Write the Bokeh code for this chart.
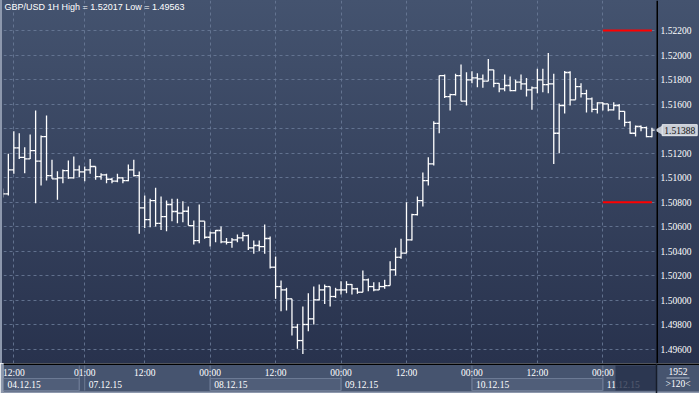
import math
from bokeh.plotting import figure
from bokeh.layouts import column, row
from bokeh.models import ColumnDataSource, FixedTicker, Range1d, Label
from bokeh.transform import dodge
from bokeh.embed import file_html
from bokeh.resources import INLINE

# ---------------- data (GBP/USD, 1 hour bars, 120 visible) ----------------
symbol = "GBP/USD 1H"

opens = [1.50896, 1.50869, 1.51065, 1.51244, 1.51167, 1.51154, 1.51222, 1.51135, 1.51336, 1.51018,
         1.50991, 1.50999, 1.51059, 1.50999, 1.51065, 1.51048, 1.51065, 1.51092, 1.51010, 1.51024,
         1.50988, 1.50972, 1.50999, 1.50977, 1.51065, 1.51018, 1.50755, 1.50659, 1.50814, 1.50629,
         1.50684, 1.50782, 1.50725, 1.50711, 1.50727, 1.50610, 1.50488, 1.50646, 1.50515, 1.50551,
         1.50570, 1.50478, 1.50474, 1.50494, 1.50510, 1.50529, 1.50429, 1.50448, 1.50439, 1.50505,
         1.50271, 1.50113, 1.50086, 1.50013, 1.49782, 1.49673, 1.49804, 1.49850, 1.50005, 1.50086,
         1.50113, 1.50032, 1.50086, 1.50086, 1.50130, 1.50095, 1.50067, 1.50168, 1.50113, 1.50086,
         1.50113, 1.50121, 1.50250, 1.50352, 1.50385, 1.50494, 1.50700, 1.50814, 1.50977, 1.51113,
         1.51444, 1.51833, 1.51662, 1.51678, 1.51833, 1.51624, 1.51798, 1.51814, 1.51806, 1.51787,
         1.51880, 1.51770, 1.51725, 1.51752, 1.51711, 1.51779, 1.51766, 1.51717, 1.51733, 1.51798,
         1.51760, 1.51766, 1.51363, 1.51589, 1.51858, 1.51635, 1.51743, 1.51686, 1.51643, 1.51558,
         1.51611, 1.51602, 1.51554, 1.51589, 1.51542, 1.51452, 1.51363, 1.51418, 1.51408, 1.51336]

highs = [1.50912, 1.51195, 1.51379, 1.51363, 1.51249, 1.51352, 1.51548, 1.51344, 1.51507, 1.51146,
         1.51053, 1.51067, 1.51140, 1.51173, 1.51100, 1.51092, 1.51154, 1.51092, 1.51037, 1.51032,
         1.50999, 1.51032, 1.51004, 1.51108, 1.51146, 1.51051, 1.50855, 1.50828, 1.50919, 1.50847,
         1.50814, 1.50828, 1.50828, 1.50809, 1.50765, 1.50651, 1.50782, 1.50646, 1.50562, 1.50575,
         1.50602, 1.50510, 1.50510, 1.50537, 1.50556, 1.50537, 1.50488, 1.50488, 1.50619, 1.50521,
         1.50358, 1.50162, 1.50103, 1.50013, 1.49809, 1.49950, 1.50059, 1.50113, 1.50130, 1.50130,
         1.50113, 1.50103, 1.50157, 1.50157, 1.50135, 1.50103, 1.50244, 1.50179, 1.50148, 1.50148,
         1.50168, 1.50320, 1.50429, 1.50502, 1.50800, 1.50706, 1.50847, 1.51043, 1.51167, 1.51461,
         1.51833, 1.51841, 1.51684, 1.51847, 1.51923, 1.51860, 1.51868, 1.51852, 1.51841, 1.51969,
         1.51880, 1.51770, 1.51841, 1.51825, 1.51798, 1.51841, 1.51814, 1.51743, 1.51888, 1.51888,
         1.52017, 1.51847, 1.51605, 1.51871, 1.51868, 1.51814, 1.51770, 1.51717, 1.51654, 1.51616,
         1.51616, 1.51602, 1.51616, 1.51602, 1.51542, 1.51461, 1.51426, 1.51426, 1.51418, 1.51408]

lows = [1.50839, 1.50855, 1.51032, 1.51154, 1.51037, 1.51154, 1.50792, 1.50937, 1.50977, 1.50991,
        1.50820, 1.50955, 1.50991, 1.50994, 1.51004, 1.50972, 1.51032, 1.50983, 1.50983, 1.50955,
        1.50955, 1.50964, 1.50955, 1.50972, 1.51010, 1.50543, 1.50590, 1.50597, 1.50602, 1.50575,
        1.50564, 1.50646, 1.50629, 1.50637, 1.50610, 1.50456, 1.50466, 1.50502, 1.50439, 1.50474,
        1.50466, 1.50456, 1.50429, 1.50474, 1.50483, 1.50412, 1.50380, 1.50401, 1.50380, 1.50260,
        1.50013, 1.49912, 1.49918, 1.49714, 1.49606, 1.49563, 1.49749, 1.49804, 1.49999, 1.49972,
        1.49950, 1.50021, 1.50048, 1.50059, 1.50048, 1.50054, 1.50067, 1.50075, 1.50075, 1.50086,
        1.50095, 1.50121, 1.50203, 1.50339, 1.50385, 1.50488, 1.50692, 1.50765, 1.50937, 1.51100,
        1.51363, 1.51651, 1.51548, 1.51670, 1.51624, 1.51589, 1.51770, 1.51738, 1.51733, 1.51787,
        1.51738, 1.51697, 1.51705, 1.51705, 1.51705, 1.51717, 1.51662, 1.51554, 1.51689, 1.51697,
        1.51689, 1.51113, 1.51200, 1.51523, 1.51589, 1.51635, 1.51654, 1.51532, 1.51534, 1.51523,
        1.51548, 1.51542, 1.51548, 1.51472, 1.51417, 1.51358, 1.51336, 1.51379, 1.51330, 1.51330]

closes = [1.50869, 1.51065, 1.51244, 1.51167, 1.51154, 1.51222, 1.51135, 1.51336, 1.51018, 1.50991,
          1.50999, 1.51059, 1.50999, 1.51065, 1.51048, 1.51065, 1.51092, 1.51010, 1.51024, 1.50988,
          1.50972, 1.50999, 1.50977, 1.51065, 1.51018, 1.50755, 1.50659, 1.50814, 1.50629, 1.50684,
          1.50782, 1.50725, 1.50711, 1.50727, 1.50610, 1.50488, 1.50646, 1.50515, 1.50551, 1.50570,
          1.50478, 1.50474, 1.50494, 1.50510, 1.50529, 1.50429, 1.50448, 1.50439, 1.50505, 1.50271,
          1.50113, 1.50086, 1.50013, 1.49782, 1.49673, 1.49804, 1.49850, 1.50005, 1.50086, 1.50113,
          1.50032, 1.50086, 1.50086, 1.50130, 1.50095, 1.50067, 1.50168, 1.50113, 1.50086, 1.50113,
          1.50121, 1.50250, 1.50352, 1.50385, 1.50494, 1.50700, 1.50814, 1.50977, 1.51113, 1.51444,
          1.51833, 1.51662, 1.51678, 1.51833, 1.51624, 1.51798, 1.51814, 1.51806, 1.51787, 1.51880,
          1.51770, 1.51725, 1.51752, 1.51711, 1.51779, 1.51766, 1.51717, 1.51733, 1.51798, 1.51760,
          1.51766, 1.51363, 1.51589, 1.51858, 1.51635, 1.51743, 1.51686, 1.51643, 1.51558, 1.51611,
          1.51602, 1.51554, 1.51589, 1.51542, 1.51452, 1.51363, 1.51418, 1.51408, 1.51336, 1.51388]

# time axis (bar index of each labelled hour)
time_tick_idx = [2, 15, 26, 38, 50, 62, 74, 86, 98, 110]
time_tick_labels = ["12:00", "01:00", "12:00", "00:00", "12:00", "00:00", "12:00", "00:00", "12:00", "00:00"]

# date row
date_labels = ["04.12.15", "07.12.15", "08.12.15", "09.12.15", "10.12.15", "11.12.15"]
date_label_idx = [0, 15, 38, 62, 86, 110]
date_box_left = [0, 38, 86]
date_box_right = [14, 62, 110]
day_sep_idx = [14, 15, 38, 62, 86, 110]

# price axis
price_ticks = [1.496, 1.498, 1.500, 1.502, 1.504, 1.506, 1.508, 1.510,
               1.512, 1.514, 1.516, 1.518, 1.520, 1.522]

# red level lines
level_values = [1.52200, 1.50800]
level_start = [110, 110]
level_end = [119, 119]

total_bars = 1952

# ---------------- styling ----------------
FONT = "Liberation Sans"
FS = "9.5px"
x_start, x_end = 0.11, 119.84
y_start, y_end = 1.49486, 1.52445
grad = "linear-gradient(to bottom, #44536f, #28324d)"
left_edge = "linear-gradient(to right, #8d98ad 0px, #8d98ad 2px, rgba(0,0,0,0) 2px), "

p = figure(width=656, height=363,
           x_range=Range1d(x_start, x_end), y_range=Range1d(y_start, y_end),
           output_backend="svg", toolbar_location=None,
           x_axis_location=None, y_axis_location=None,
           min_border_left=3, min_border_right=0, min_border_top=0, min_border_bottom=0,
           border_fill_color=None, background_fill_color=None, outline_line_color=None,
           styles={"background": left_edge + grad})

# grids
p.xgrid.ticker = FixedTicker(ticks=time_tick_idx)
p.ygrid.ticker = FixedTicker(ticks=price_ticks)
for g in (p.xgrid, p.ygrid):
    g.grid_line_color = "#6a7a98"
    g.grid_line_alpha = 0.85
    g.grid_line_dash = "3 3"
    g.grid_line_width = 1

# OHLC bars
src = ColumnDataSource(dict(x=list(range(len(closes))), o=opens, h=highs, l=lows, c=closes))
bar_kw = dict(source=src, line_color="white", line_width=1.3)
p.segment(x0="x", y0="l", x1="x", y1="h", **bar_kw)
p.segment(x0=dodge("x", -0.5), y0="o", x1="x", y1="o", **bar_kw)
p.segment(x0="x", y0="c", x1=dodge("x", 0.5), y1="c", **bar_kw)

# red levels
p.segment(x0=level_start, x1=level_end, y0=level_values, y1=level_values,
          line_color="#ff0000", line_width=2)

# title text
p.add_layout(Label(x=x_start, y=y_end, x_offset=1, y_offset=-1,
                   text=f"{symbol} High = {max(highs):.5f} Low = {min(lows):.5f}",
                   text_baseline="top", text_align="left", text_color="white",
                   text_font=FONT, text_font_size="9px"))

# ---------------- right price scale panel ----------------
r = figure(width=43, height=363, x_range=Range1d(0, 43), y_range=p.y_range,
           output_backend="svg", toolbar_location=None,
           x_axis_location=None, y_axis_location=None,
           min_border_left=0, min_border_right=0, min_border_top=0, min_border_bottom=0,
           border_fill_color=None, background_fill_color=None, outline_line_color=None,
           styles={"background": grad})
r.grid.visible = False
r.vspan(x=[0], line_color="black", line_width=3)

last = closes[-1]
nearest = min(price_ticks, key=lambda t: abs(t - last))
shown = [t for t in price_ticks if t != nearest]
r.text(x=[4] * len(shown), y=shown, text=[f"{t:.5f}" for t in shown],
       text_align="left", text_baseline="middle", text_color="white",
       text_font=FONT, text_font_size=FS)

# last price tag
tag_fill = "#c6cbd4"
r.scatter(x=[4.2], y=[last], marker="triangle", size=11, angle=math.pi / 2,
          fill_color=tag_fill, line_color=None)
r.rect(x=[23.2], y=[last], width=35, height=11, height_units="screen",
       fill_color=tag_fill, line_color="#e6e9ee", line_width=1)
r.text(x=[23.2], y=[last], text=[f"{last:.5f}"], text_align="center", text_baseline="middle",
       text_color="#111111", text_font=FONT, text_font_size=FS)

# ---------------- bottom time / date strip ----------------
strip_end = x_start + (x_end - x_start) * 696 / 653
px = (x_end - x_start) / 653.0  # one pixel in bar units

s = figure(width=699, height=30,
           x_range=Range1d(x_start, strip_end), y_range=Range1d(0, 30),
           output_backend="svg", toolbar_location=None,
           x_axis_location=None, y_axis_location=None,
           min_border_left=3, min_border_right=0, min_border_top=0, min_border_bottom=0,
           border_fill_color="#8d98ad", background_fill_color="#46546f",
           outline_line_color=None)
s.grid.visible = False

# date boxes (alternating days)
s.quad(left=[max(v, x_start) for v in date_box_left], right=date_box_right,
       bottom=3, top=15, fill_color="#505e79", line_color="#6c7a94", line_width=1)
# day separators
s.segment(x0=day_sep_idx, x1=day_sep_idx, y0=[3] * len(day_sep_idx), y1=[28] * len(day_sep_idx),
          line_color="#6c7a94", line_width=1)
# time labels
s.text(x=time_tick_idx, y=[21] * len(time_tick_idx), text=time_tick_labels,
       text_align="center", text_baseline="middle", text_color="white",
       text_font=FONT, text_font_size=FS)
# date labels
s.text(x=[max(v, x_start) for v in date_label_idx], y=[9] * len(date_labels), text=date_labels,
       x_offset=4, text_align="left", text_baseline="middle", text_color="white",
       text_font=FONT, text_font_size=FS)
# scroll window shade over the last bars
s.quad(left=[x_end - 41 * px], right=[x_end], bottom=[3], top=[28],
       fill_color="#26304a", fill_alpha=0.8, line_color=None)
# bottom edge and top black line
s.quad(left=[x_start], right=[strip_end], bottom=[0], top=[2], fill_color="#8d98ad", line_color=None)
s.hspan(y=[30], line_color="black", line_width=3)
s.vspan(x=[x_end], line_color="#161c2a", line_width=1.5)

# right info panel
panel_x = (x_end + strip_end) / 2
s.text(x=[panel_x, panel_x], y=[22, 10], text=[str(total_bars), f">{len(closes)}<"],
       text_align="center", text_baseline="middle", text_color="white",
       text_font=FONT, text_font_size=FS)
s.segment(x0=[panel_x - 11.5 * px], x1=[panel_x + 11.5 * px], y0=[15.5], y1=[15.5],
          line_color="#aab4c6", line_width=1)

layout = column(row(p, r, spacing=0), s, spacing=0)
open("out.html", "w").write(file_html(layout, INLINE))
